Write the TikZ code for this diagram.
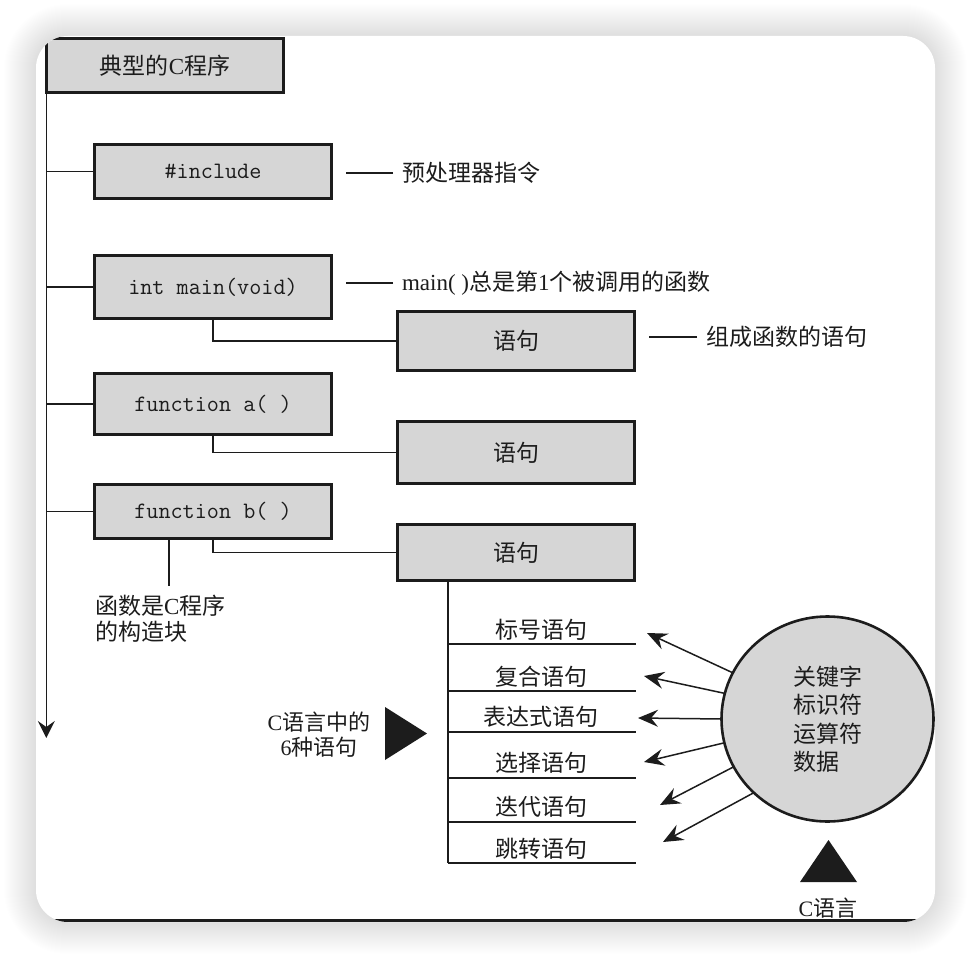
\documentclass[tikz,border=0pt]{standalone}
\usepackage{fontspec}
\setmainfont{Liberation Serif}
\newfontfamily\cjkfont{Noto Sans CJK SC}
\newcommand\zhtxt[1]{{\cjkfont #1}}
\usetikzlibrary{arrows.meta,shapes.geometric,calc}
\definecolor{boxgray}{HTML}{D6D6D6}
\definecolor{ink}{HTML}{1C1C1C}

\begin{document}
\begin{tikzpicture}[x=1pt,y=-1pt,
  every node/.style={inner sep=0pt, outer sep=0pt, text=ink},
  txt/.style={font=\fontsize{23}{26}\selectfont},
  boxbase/.style={draw=ink, fill=boxgray, line width=2.6pt, minimum width=237.4pt},
  codebox/.style={boxbase, font=\fontsize{23.5}{26}\selectfont\ttfamily},
  stmtbox/.style={boxbase, txt},
  wire/.style={draw=ink, line width=1.6pt},
  ray/.style={draw=ink, line width=1.5pt, -{Stealth[length=20pt,width=17pt,inset=7pt]}},
]
\useasboundingbox (0,0) rectangle (972,960);

% soft shadow around the card
\foreach \d in {1,...,32} {
  \pgfmathsetmacro\rr{32+\d}
  \fill[black, opacity=0.0047, rounded corners=\rr pt] (36-\d,36-\d) rectangle (935+\d,922+\d);
}
\fill[white, rounded corners=32pt] (36,36) rectangle (935,922);

\begin{scope}
\clip[rounded corners=32pt] (36,36) rectangle (935,922);

% program skeleton
\node[stmtbox, minimum height=54.4pt] (title) at (165,65.5) {\zhtxt{典型的}C\zhtxt{程序}};
\node[codebox, minimum height=54.4pt] (inc)   at (213,171.5) {\#include};
\node[codebox, minimum height=63.4pt] (mainf) at (213,287)   {int main(void)};
\node[codebox, minimum height=61.4pt] (fa)    at (213,404)   {function a( )};
\node[codebox, minimum height=54.4pt] (fb)    at (213,511.5) {function b( )};

\node[stmtbox, minimum height=59.4pt] (s1) at (516,341)   {\zhtxt{语句}};
\node[stmtbox, minimum height=62.4pt] (s2) at (516,452.5) {\zhtxt{语句}};
\node[stmtbox, minimum height=56.4pt] (s3) at (516,552.5) {\zhtxt{语句}};

% main trunk with branches
\coordinate (trunkend) at (46.3,738);
\draw[wire, -{Stealth[length=17pt,width=17pt,inset=6pt]}] (title.south west) -- (trunkend);
\draw[wire] (inc.west -| trunkend) -- (inc.west);
\draw[wire] (mainf.west -| trunkend) -- (mainf.west);
\draw[wire] (fa.west -| trunkend) -- (fa.west);
\draw[wire] (fb.west -| trunkend) -- (fb.west);

\draw[wire] (mainf.south) |- (s1.west);
\draw[wire] (fa.south) |- (s2.west);
\draw[wire] (fb.south) |- (s3.west);

% remarks
\node[txt, anchor=west] (note1) at (402,173) {\zhtxt{预处理器指令}};
\draw[wire] ([xshift=-9pt]note1.west) -- ([xshift=-56pt]note1.west);
\node[txt, anchor=west] (note2) at (402,283) {main( )\zhtxt{总是第}1\zhtxt{个被调用的函数}};
\draw[wire] ([xshift=-9pt]note2.west) -- ([xshift=-56pt]note2.west);
\node[txt, anchor=west] (note3) at (706,337) {\zhtxt{组成函数的语句}};
\draw[wire] ([xshift=-9pt]note3.west) -- ([xshift=-57pt]note3.west);

\coordinate (fbnote) at (169,586);
\draw[wire] (fbnote |- fb.south) -- (fbnote);
\node[txt, anchor=north west, align=left] (fbtext) at (95,595)
  {\zhtxt{函数是}C\zhtxt{程序}\\\zhtxt{的构造块}};

% the six kinds of statements
\path (s3.south) ++(-68,0) coordinate (listtop);
\coordinate (listend) at (448,863);
\draw[wire] (listtop) -- (listend);
\foreach \n/\y in {1/644,2/691,3/732,4/778,5/822,6/863} {
  \coordinate (r\n) at (636,\y);
  \draw[wire] (r\n -| listtop) -- (r\n);
}
\node[txt] (st1) at (541,630) {\zhtxt{标号语句}};
\node[txt] (st2) at (541,677) {\zhtxt{复合语句}};
\node[txt] (st3) at (541,717) {\zhtxt{表达式语句}};
\node[txt] (st4) at (541,763) {\zhtxt{选择语句}};
\node[txt] (st5) at (541,807) {\zhtxt{迭代语句}};
\node[txt] (st6) at (541,849) {\zhtxt{跳转语句}};

\node[font=\fontsize{22}{25}\selectfont, align=center] (six) at (319,734.5)
  {C\zhtxt{语言中的}\\6\zhtxt{种语句}};
\fill[ink] (385,707) -- (385,760) -- (427,733.5) -- cycle;

% language elements
\node[ellipse, draw=ink, fill=boxgray, line width=2.6pt, minimum width=212pt,
      minimum height=205pt, align=left, font=\fontsize{23}{28.5}\selectfont] (kw) at (827.5,719)
  {\zhtxt{关键字}\\\zhtxt{标识符}\\\zhtxt{运算符}\\\zhtxt{数据}};

\coordinate (t1) at (647,633);
\coordinate (t2) at (644,676);
\coordinate (t3) at (638,718);
\coordinate (t4) at (644,762);
\coordinate (t5) at (660,805);
\coordinate (t6) at (663,842);
\draw[ray] (kw.154) -- (t1);
\draw[ray] (kw.166) -- (t2);
\draw[ray] (kw.180) -- (t3);
\draw[ray] (kw.193.5) -- (t4);
\draw[ray] (kw.207) -- (t5);
\draw[ray] (kw.225) -- (t6);

\fill[ink] (828.5,840) -- (800,882) -- (857,882) -- cycle;
\node[font=\fontsize{22}{25}\selectfont] (clang) at (828,908) {C\zhtxt{语言}};

% lower edge of the sheet
\draw[ink, line width=3pt] (36,920.5) -- (935,920.5);
\end{scope}
\end{tikzpicture}
\end{document}
